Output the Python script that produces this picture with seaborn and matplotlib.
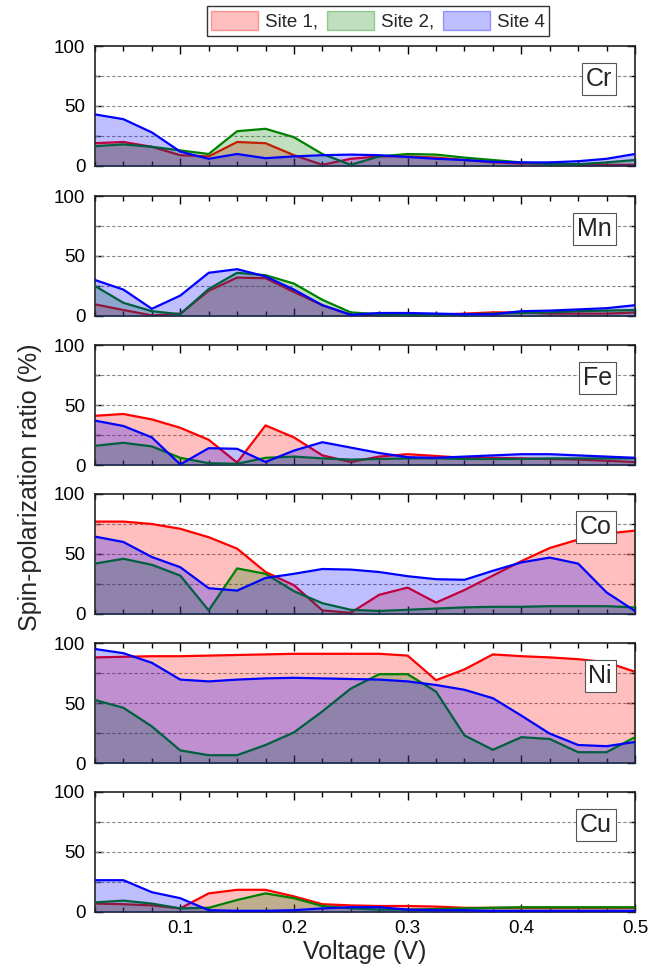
import numpy as np
import pandas as pd
import matplotlib
matplotlib.use("Agg")
import matplotlib.pyplot as plt
from matplotlib.patches import Patch
from matplotlib.ticker import MultipleLocator
import seaborn as sns

voltage = [0.025, 0.05, 0.075, 0.1, 0.125, 0.15, 0.175, 0.2, 0.225, 0.25,
           0.275, 0.3, 0.325, 0.35, 0.375, 0.4, 0.425, 0.45, 0.475, 0.5]

elements = ["Cr", "Mn", "Fe", "Co", "Ni", "Cu"]
sites = ["Site 1,", "Site 2,", "Site 4"]

cr_site1 = [19, 20, 16, 9, 8, 20, 19, 9, 1, 6, 8, 8, 7, 5, 3, 2, 2, 1, 1, 1]
cr_site2 = [16.5, 18, 16, 13, 10, 29, 31, 24, 10, 1, 8, 10, 9.5, 7, 5, 3, 1.5, 1.5, 3, 5]
cr_site4 = [43, 39, 28, 12, 6, 10, 6.5, 8, 9, 9.5, 9, 7.5, 6, 5, 3.5, 3, 3, 4, 6, 10]

mn_site1 = [9.7, 5, 0.5, 2, 21, 32, 31.5, 20, 9, 1, 1, 1, 1, 2, 3, 3, 2, 2, 2, 3]
mn_site2 = [25, 11, 4, 1.5, 22.5, 36, 34, 27, 13.5, 3, 1.5, 1, 1, 1.5, 2, 2.5, 3, 4, 4.5, 5]
mn_site4 = [30, 22, 6, 17, 36, 39, 33, 22, 9, 1, 2.5, 2.5, 2, 1.5, 1.5, 4, 4.5, 5.5, 6.5, 9]

fe_site1 = [41, 42.5, 38, 31, 21, 2, 33, 23, 8, 2.5, 7, 9, 7.5, 6, 6, 5.5, 5, 4.5, 3.5, 2.5]
fe_site2 = [16, 18.5, 15.5, 6, 1.5, 1, 6, 7, 5.5, 4.5, 5, 5.5, 5.5, 5, 5, 5, 5.5, 5.5, 5.5, 5.5]
fe_site4 = [37, 32.5, 23, 0.5, 14, 13.5, 2.5, 12, 19, 14.5, 10, 6.5, 6, 7, 8, 9, 9, 8, 7, 6]

co_site1 = [77, 77, 75, 71, 64, 54.5, 35, 24, 3, 1, 16, 22, 9.5, 20, 32, 44, 55, 62, 67, 69.5]
co_site2 = [42, 46, 41, 32, 3, 38, 33.5, 19, 9, 3.5, 2.5, 3.5, 4.5, 5.5, 6, 6, 6.5, 6.5, 6.5, 5.5]
co_site4 = [64.5, 60, 47.5, 39, 21.5, 19.5, 30, 33.5, 37.5, 37, 35, 31.5, 29, 28.5, 36, 43, 47, 42, 18, 2.5]

ni_site1 = [88, 88.5, 89, 89, 89.5, 90, 90.5, 91, 91, 91, 91, 89.5, 69, 78, 90.5, 89, 88, 86.5, 84, 76]
ni_site2 = [52.5, 46, 30.5, 10.5, 6.5, 6.5, 15, 25.5, 43, 62, 74, 74, 59.5, 23, 11, 21.5, 20, 9, 9, 21.5]
ni_site4 = [95, 91.5, 83.5, 69.5, 68, 69.5, 70.5, 71, 70.5, 70, 69.5, 68, 65, 61, 54, 39.5, 24.5, 15, 14, 17.5]

cu_site1 = [7, 6.5, 5.5, 3, 15.5, 18.5, 18.5, 13, 6.5, 5.5, 5, 5, 4.5, 3.5, 3.5, 3.5, 3.5, 3.5, 3.5, 3.5]
cu_site2 = [8, 9.5, 7, 3, 3.5, 10, 15.5, 11.5, 5, 3, 2, 2, 2.5, 3, 3.5, 4, 4, 4, 4, 4]
cu_site4 = [26.5, 26.5, 16.5, 11.5, 1.5, 1, 1, 1.5, 3, 4, 4, 2, 1.5, 1.5, 1, 1, 1, 1, 1, 1]

data = {
    "Cr": [cr_site1, cr_site2, cr_site4],
    "Mn": [mn_site1, mn_site2, mn_site4],
    "Fe": [fe_site1, fe_site2, fe_site4],
    "Co": [co_site1, co_site2, co_site4],
    "Ni": [ni_site1, ni_site2, ni_site4],
    "Cu": [cu_site1, cu_site2, cu_site4],
}

line_colors = ["#ff0000", "#008000", "#0000ff"]
fill_alpha = 0.25

sns.set_theme(style="ticks")
plt.rcParams["font.family"] = ["Liberation Sans", "DejaVu Sans"]
plt.rcParams["xtick.direction"] = "in"
plt.rcParams["ytick.direction"] = "in"

W, H = 672, 973
fig = plt.figure(figsize=(W / 100, H / 100), dpi=100)

left_px, right_px = 95, 635
tops = [46, 196, 345, 494, 643, 792]
ph = 120

axes = []
for i, el in enumerate(elements):
    ax = fig.add_axes([left_px / W, 1 - (tops[i] + ph) / H,
                       (right_px - left_px) / W, ph / H])
    axes.append(ax)
    for j, site in enumerate(sites):
        vals = data[el][j]
        ax.fill_between(voltage, 0, vals, color=line_colors[j],
                        alpha=fill_alpha, linewidth=0, zorder=2 + j)
        df = pd.DataFrame({"V": voltage, "P": vals})
        sns.lineplot(data=df, x="V", y="P", ax=ax, color=line_colors[j],
                     linewidth=1.6, zorder=2 + j, legend=False)
    ax.set_xlim(0.025, 0.5)
    ax.set_ylim(0, 100)
    ax.set_yticks([0, 50, 100])
    ax.yaxis.set_minor_locator(MultipleLocator(25))
    ax.xaxis.set_major_locator(MultipleLocator(0.1))
    ax.xaxis.set_minor_locator(MultipleLocator(0.025))
    for y in (25, 50, 75):
        ax.axhline(y, color="#888888", lw=0.8, ls=(0, (3, 2)), zorder=1)
    ax.tick_params(which="both", top=True, right=True, direction="in",
                   labelsize=13.5, colors="black")
    ax.tick_params(which="major", length=6, width=1)
    ax.tick_params(which="minor", length=3.5, width=1)
    ax.tick_params(axis="y", pad=7)
    ax.tick_params(axis="x", pad=6)
    ax.set_xlabel("")
    ax.set_ylabel("")
    for s in ax.spines.values():
        s.set_color("#222222")
        s.set_linewidth(1.2)
    if i < len(elements) - 1:
        ax.tick_params(axis="x", labelbottom=False)
    else:
        ax.set_xticks([0.1, 0.2, 0.3, 0.4, 0.5])
        ax.set_xticklabels(["0.1", "0.2", "0.3", "0.4", "0.5"])
        ax.set_xlabel("Voltage (V)", fontsize=18, labelpad=2)
    ax.text(0.957, 0.725, el, transform=ax.transAxes, fontsize=18,
            ha="right", va="center", zorder=10,
            bbox=dict(boxstyle="square,pad=0.15", facecolor="white",
                      edgecolor="#555555", linewidth=0.8))

fig.text(30 / W, 1 - 487 / H, "Spin-polarization ratio (%)", rotation=90,
         ha="center", va="center", fontsize=18)

handles = [Patch(facecolor=matplotlib.colors.to_rgba(c, fill_alpha),
                 edgecolor=matplotlib.colors.to_rgba(c, 0.35), linewidth=1)
           for c in line_colors]
fig.legend(handles, sites, loc="center", bbox_to_anchor=(378 / W, 1 - 21 / H),
           ncol=3, fontsize=13.5, frameon=True, fancybox=False,
           edgecolor="black", handlelength=2.5, handleheight=1.2,
           columnspacing=0.5, handletextpad=0.35, borderpad=0.25,
           borderaxespad=0)

fig.savefig("out.png", dpi=100)
